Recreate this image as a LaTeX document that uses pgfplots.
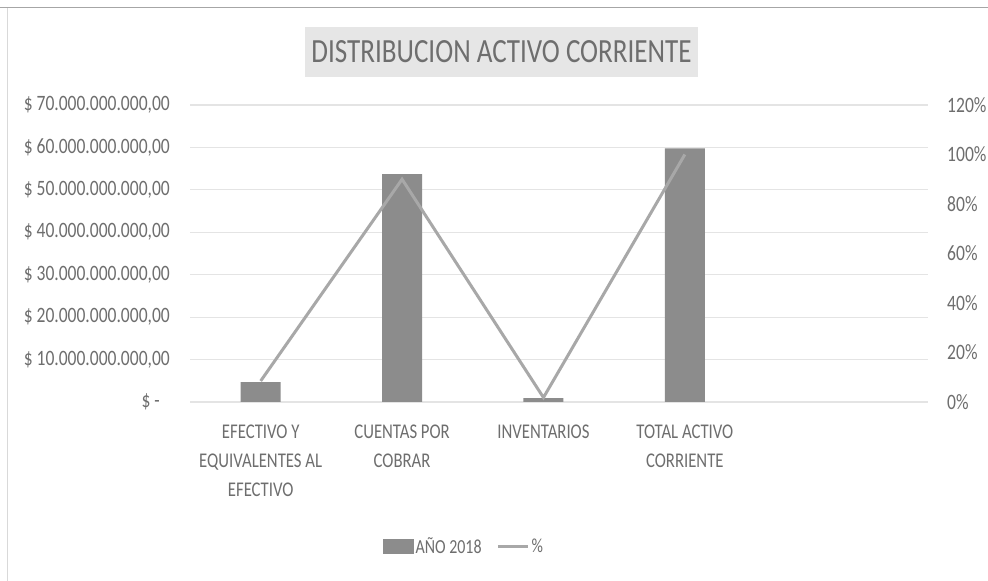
\documentclass[border=0pt]{standalone}
\usepackage{pgfplots}
\pgfplotsset{compat=1.18}
\usepackage{fontspec}
\setmainfont{Carlito}[FakeStretch=0.8]
\definecolor{txt}{HTML}{6E6E6E}
\definecolor{gridc}{HTML}{E4E4E4}
\definecolor{barc}{HTML}{8C8C8C}
\definecolor{linec}{HTML}{A8A8A8}
\definecolor{titlebg}{HTML}{E6E6E6}
\begin{document}
\begin{tikzpicture}[x=1bp,y=1bp]
\useasboundingbox (0,0) rectangle (988,581);
\fill[white] (0,0) rectangle (988,581);
\draw[gray!70, line width=1bp] (0,573) -- (988,573);
\draw[gray!30, line width=1bp] (7,0) -- (7,573);
\fill[titlebg] (305,504) rectangle (698,554);
\node[text=txt, font=\fontsize{34}{36}\selectfont] at (501.5,529) {DISTRIBUCION ACTIVO CORRIENTE};

\begin{axis}[
  at={(190bp,179bp)}, anchor=south west, scale only axis,
  width=738bp, height=297bp,
  xmin=-0.5, xmax=4.72, ymin=0, ymax=7e10,
  scaled y ticks=false,
  ytick={0,1e10,2e10,3e10,4e10,5e10,6e10,7e10},
  yticklabels={{\$ -\rule{10bp}{0pt}}, {\$ 10.000.000.000,00}, {\$ 20.000.000.000,00}, {\$ 30.000.000.000,00}, {\$ 40.000.000.000,00}, {\$ 50.000.000.000,00}, {\$ 60.000.000.000,00}, {\$ 70.000.000.000,00}},
  ymajorgrids, grid style={draw=gridc, line width=1.2bp},
  axis line style={draw=none}, major tick length=0pt,
  xtick={0,1,2,3},
  xticklabels={{EFECTIVO Y\\EQUIVALENTES AL\\EFECTIVO}, {CUENTAS POR\\COBRAR}, {INVENTARIOS}, {TOTAL ACTIVO\\CORRIENTE}},
  xticklabel style={align=center, anchor=north, inner sep=0pt, yshift=-23bp, font=\fontsize{21}{29}\selectfont, text=txt},
  yticklabel style={anchor=east, inner sep=0pt, xshift=-20bp, font=\fontsize{22}{24}\selectfont, text=txt},
  legend style={at={(0.371,-0.485)}, anchor=center, legend columns=2, draw=none, fill=none,
    font=\fontsize{20}{22}\selectfont, text=txt,
    /tikz/every even column/.style={column sep=13bp}},
]
\addplot[ybar, bar width=40bp, fill=barc, draw=none,
  legend image code/.code={\fill[barc] (0bp,-7.5bp) rectangle (31bp,7.5bp);}]
  coordinates {(0,4.7e9) (1,53.7e9) (2,0.9e9) (3,59.8e9)};
\addlegendentry{AÑO 2018}
\addlegendimage{legend image code/.code={\draw[linec, line width=3bp] (0bp,0bp) -- (30bp,0bp);}}
\addlegendentry{\%}
\end{axis}

\begin{axis}[
  at={(190bp,179bp)}, anchor=south west, scale only axis,
  width=738bp, height=297bp,
  xmin=-0.5, xmax=4.72, ymin=0, ymax=1.2,
  axis y line*=right, axis x line=none,
  axis line style={draw=none}, major tick length=0pt,
  ytick={0,0.2,0.4,0.6,0.8,1.0,1.2},
  yticklabels={0\%,20\%,40\%,60\%,80\%,100\%,120\%},
  yticklabel style={anchor=west, inner sep=0pt, xshift=19bp, font=\fontsize{22}{24}\selectfont, text=txt},
]
\addplot[linec, line width=3bp, mark=none] coordinates {(0,0.085) (1,0.9) (2,0.018) (3,1.0)};
\end{axis}
\end{tikzpicture}
\end{document}
